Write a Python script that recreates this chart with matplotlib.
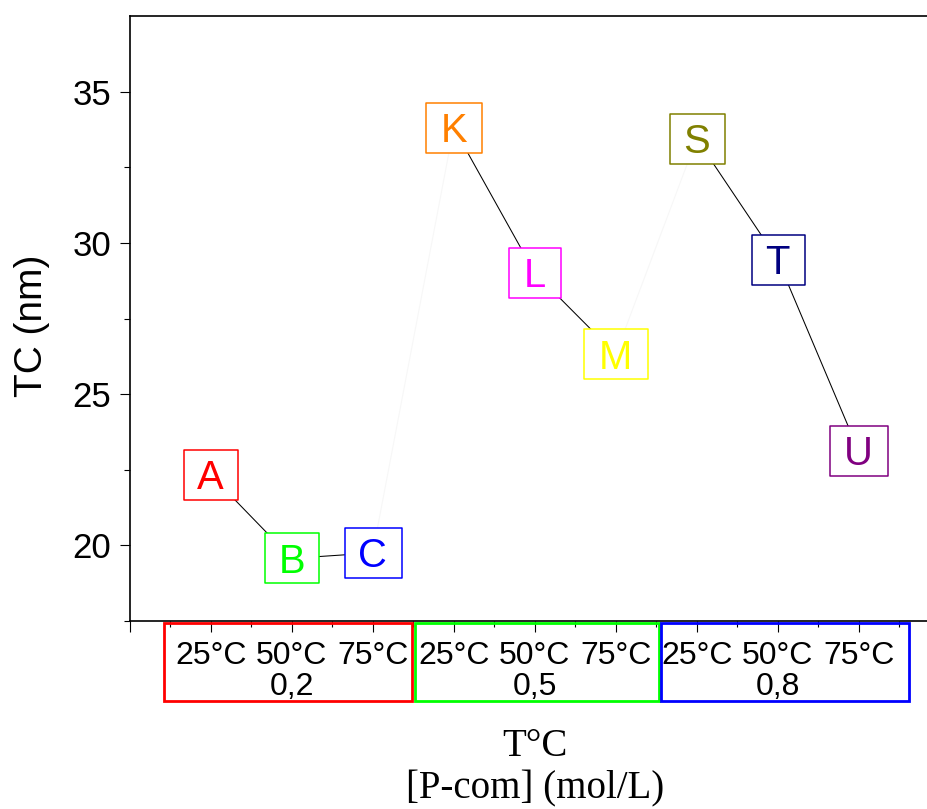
import matplotlib
matplotlib.use("Agg")
import matplotlib.pyplot as plt
from matplotlib.path import Path
from matplotlib.markers import MarkerStyle
from matplotlib.patches import Rectangle
from matplotlib.transforms import blended_transform_factory

# ---- data -------------------------------------------------------------
sample_labels = ["A", "B", "C", "K", "L", "M", "S", "T", "U"]
tc_nm = [22.33, 19.57, 19.75, 33.81, 29.01, 26.32, 33.44, 29.45, 23.12]
temperatures = ["25°C", "50°C", "75°C"]
concentrations = ["0,2", "0,5", "0,8"]

# ---- styling ----------------------------------------------------------
point_colors = ["#ff0000", "#00ff00", "#0000ff",
                "#ff8000", "#ff00ff", "#ffff00",
                "#808000", "#000080", "#800080"]
group_colors = ["#ff0000", "#00ff00", "#0000ff"]
box_width_px = [54, 54, 57, 56, 52, 64, 55, 53, 58]
box_height_px = 50
group_edges = [(0.42, 3.49), (3.52, 6.53), (6.56, 9.62)]

DPI = 100
PX_PER_PT = DPI / 72.0

sans = ["Liberation Sans", "DejaVu Sans"]
serif = ["Liberation Serif", "DejaVu Serif"]
plt.rcParams["font.family"] = sans

fig = plt.figure(figsize=(9.28, 8.09), dpi=DPI)
W, H = 928, 809
# axes spans x = 0..10; the right part runs past the figure edge
ax = fig.add_axes([129.7 / W, (H - 621) / H, 810 / W, (621 - 16) / H])

x = list(range(1, len(tc_nm) + 1))

# connecting lines: solid within a concentration group, faint between groups
for g in range(3):
    sl = slice(3 * g, 3 * g + 3)
    ax.plot(x[sl], tc_nm[sl], color="black", lw=0.75, zorder=2)
for g in range(2):
    i = 3 * g + 2
    ax.plot(x[i:i + 2], tc_nm[i:i + 2], color="#f7f7f7", lw=0.8, zorder=1)


def rect_marker(w, h):
    verts = [(-w / 2, -h / 2), (w / 2, -h / 2), (w / 2, h / 2),
             (-w / 2, h / 2), (-w / 2, -h / 2)]
    codes = [Path.MOVETO, Path.LINETO, Path.LINETO, Path.LINETO, Path.CLOSEPOLY]
    return MarkerStyle(Path(verts, codes), joinstyle="miter")


LETTER_PT = 28.8
cap_offset = -0.716 * LETTER_PT / 2
for xi, yi, lab, col, bw in zip(x, tc_nm, sample_labels, point_colors, box_width_px):
    ax.plot([xi], [yi], linestyle="none",
            marker=rect_marker(bw, box_height_px),
            markersize=max(bw, box_height_px) / PX_PER_PT,
            markerfacecolor="white", markeredgecolor=col,
            markeredgewidth=1.1, zorder=3)
    ax.annotate(lab, (xi, yi), xytext=(0, cap_offset), textcoords="offset points",
                ha="center", va="baseline", fontsize=LETTER_PT, color=col, zorder=4)

# ---- axes -------------------------------------------------------------
ax.set_xlim(0, 10)
ax.set_ylim(17.5, 37.5)

ax.set_xticks(range(0, 10))
ax.set_xticklabels([""] + temperatures * 3)
ax.set_xticks([i + 0.5 for i in range(0, 10)], minor=True)
ax.set_yticks([20, 25, 30, 35])
ax.set_yticks([17.5, 22.5, 27.5, 32.5], minor=True)

ax.tick_params(axis="x", which="major", direction="out", length=8, width=0.8,
               pad=6.5, labelsize=23)
ax.tick_params(axis="x", which="minor", direction="out", length=4, width=0.8)
ax.tick_params(axis="y", which="major", direction="out", length=7, width=0.8,
               pad=6.5, labelsize=25)
ax.tick_params(axis="y", which="minor", direction="out", length=4, width=0.8)

for side in ("left", "bottom", "top"):
    ax.spines[side].set_linewidth(1.2)
ax.spines["right"].set_visible(False)

ax.set_ylabel("TC (nm)", fontsize=28)
ax.yaxis.set_label_coords(-0.0984, 0.488)

ax.set_xlabel("T°C\n[P-com] (mol/L)", fontsize=28, family=serif, linespacing=1.2)
ax.xaxis.set_label_coords(0.5, -0.177)

# concentration groups under the temperature labels
blend = blended_transform_factory(ax.transData, ax.transAxes)
for (x0, x1), col, conc, centre in zip(group_edges, group_colors, concentrations, (2, 5, 8)):
    ax.add_patch(Rectangle((x0, -0.1322), x1 - x0, 0.1289, transform=blend,
                           fill=False, edgecolor=col, lw=2.0, clip_on=False, zorder=5))
    ax.text(centre, -0.1215, conc, transform=blend, ha="center", va="baseline",
            fontsize=23)

fig.savefig("out.png", dpi=DPI)
